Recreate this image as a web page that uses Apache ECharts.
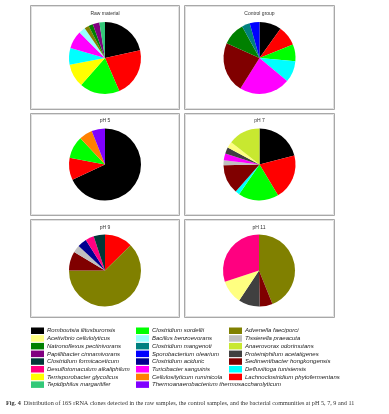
<!DOCTYPE html>
<html>
<head>
<meta charset="utf-8">
<script src="https://cdn.jsdelivr.net/npm/echarts@6/dist/echarts.min.js"></script>
<style>
html,body{margin:0;padding:0;background:#fff;}
#chart{width:389px;height:414px;}
</style>
</head>
<body>
<div id="chart"></div>
<script>
// ---- Data ----
const species = [
  'Romboutsia ilitusburonsis','Acetivibrio cellulolyticus','Natronoflexus pectinivorans','Papillibacter cinnamivorans',
  'Clostridium formicaceticum','Desulfotomaculum alkaliphilum','Terrisporobacter glycolicus','Tepidiphilus margaritifer',
  'Clostridium sordellii','Bacillus benzoevorans','Clostridium mangenoti','Sporobacterium olearium',
  'Clostridium aciduric','Turicibacter sanguinis','Cellulosilyticum ruminicola','Thermoanaerobacterium thermosaccharolyticum',
  'Advenella faeciporci','Tissierella praeacuta','Anaerovorax odorimutans','Proteiniphilum acetatigenes',
  'Sedimentibacter hongkongensis','Defluviitoga tunisiensis','Lachnoclostridium phytofermentans'
];
const speciesColors = [
  '#000000','#ffff80','#008000','#800080',
  '#003838','#ff0080','#ffff00','#33c878',
  '#00ff00','#99ffff','#008080','#0000ff',
  '#000090','#ff00ff','#ff8000','#8000ff',
  '#808000','#c0c0c0','#c8e830','#404040',
  '#800000','#00ffff','#ff0000'
];

const panelTitles = ['Raw material','Control group','pH 5','pH 7','pH 9','pH 11'];

const rawNames = ['Romboutsia ilitusburonsis','Lachnoclostridium phytofermentans','Clostridium sordellii','Terrisporobacter glycolicus','Defluviitoga tunisiensis','Turicibacter sanguinis','Bacillus benzoevorans','Advenella faeciporci','Natronoflexus pectinivorans','Papillibacter cinnamivorans','Tepidiphilus margaritifer'];
const rawValues = [21.5, 22, 18, 10.5, 7.5, 8, 3, 2, 2, 3, 2.5];

const controlNames = ['Romboutsia ilitusburonsis','Lachnoclostridium phytofermentans','Clostridium sordellii','Defluviitoga tunisiensis','Turicibacter sanguinis','Sedimentibacter hongkongensis','Natronoflexus pectinivorans','Clostridium mangenoti','Sporobacterium olearium'];
const controlValues = [9.9, 9, 7.5, 9.7, 22.8, 22.8, 10.3, 3.6, 4.4];

const ph5Names = ['Romboutsia ilitusburonsis','Lachnoclostridium phytofermentans','Clostridium sordellii','Cellulosilyticum ruminicola','Thermoanaerobacterium thermosaccharolyticum'];
const ph5Values = [68, 10, 10, 6, 6];

const ph7Names = ['Romboutsia ilitusburonsis','Lachnoclostridium phytofermentans','Clostridium sordellii','Defluviitoga tunisiensis','Sedimentibacter hongkongensis','Tissierella praeacuta','Turicibacter sanguinis','Proteiniphilum acetatigenes','Acetivibrio cellulolyticus','Anaerovorax odorimutans'];
const ph7Values = [21, 20.4, 18.2, 1.9, 13.2, 2.2, 3.1, 2.8, 2.8, 14.4];

const ph9Names = ['Lachnoclostridium phytofermentans','Advenella faeciporci','Sedimentibacter hongkongensis','Tissierella praeacuta','Clostridium aciduric','Desulfotomaculum alkaliphilum','Clostridium formicaceticum'];
const ph9Values = [12.6, 62.4, 8.6, 3.3, 4.2, 3.8, 5.1];

const ph11Names = ['Advenella faeciporci','Sedimentibacter hongkongensis','Proteiniphilum acetatigenes','Acetivibrio cellulolyticus','Desulfotomaculum alkaliphilum'];
const ph11Values = [43.9, 5.8, 9.6, 10.6, 30.1];

const captionBold = 'Fig. 4';
const captionText = 'Distribution of 16S rRNA clones detected in the raw samples, the control samples, and the bacterial communities at pH 5, 7, 9 and 11';

// ---- Build ----
const colorOf = {};
species.forEach((s, i) => colorOf[s] = speciesColors[i]);
function mk(names, values) {
  return names.map((n, i) => ({ name: n, value: values[i], itemStyle: { color: colorOf[n] } }));
}
const sets = [
  mk(rawNames, rawValues), mk(controlNames, controlValues),
  mk(ph5Names, ph5Values), mk(ph7Names, ph7Values),
  mk(ph9Names, ph9Values), mk(ph11Names, ph11Values)
];

const panels = [
  {x:30, y:5, w:149, h:104},{x:184, y:5, w:150, h:104},
  {x:30, y:113, w:149, h:102},{x:184, y:113, w:150, h:102},
  {x:30, y:219, w:149, h:98},{x:184, y:219, w:150, h:98}
];
const centers = [[105,58],[259.5,58],[105,164.5],[259.5,164.5],[105,270.5],[259,270.5]];
const titleY = [11.5, 11.5, 118.5, 118.5, 225.5, 225.5];

const series = sets.map((d, i) => ({
  type: 'pie',
  center: centers[i],
  radius: 36,
  startAngle: 90,
  clockwise: true,
  data: d,
  label: { show: false },
  labelLine: { show: false },
  itemStyle: { borderWidth: 0 },
  emphasis: { disabled: true },
  silent: true,
  avoidLabelOverlap: false
}));

const titles = panelTitles.map((t, i) => ({
  text: t,
  left: centers[i][0],
  top: titleY[i],
  padding: 0,
  textAlign: 'center',
  textStyle: { fontSize: 5, fontWeight: 'normal', color: '#333', fontFamily: 'Liberation Sans' }
}));
titles.push({
  text: '{b|' + captionBold + '}  ' + captionText,
  left: 6,
  top: 400,
  padding: 0,
  textStyle: {
    fontSize: 6.2, fontWeight: 'normal', color: '#333', fontFamily: 'Liberation Serif',
    rich: { b: { fontSize: 6.2, fontWeight: 'bold', color: '#333', fontFamily: 'Liberation Serif' } }
  }
});

const legendCols = [species.slice(0, 8), species.slice(8, 16), species.slice(16)];
const legendLeft = [31, 136, 229];
const legends = legendCols.map((names, i) => ({
  data: names,
  orient: 'vertical',
  left: legendLeft[i],
  top: 327,
  padding: 0,
  itemWidth: 13,
  itemHeight: 6.5,
  itemGap: 0.2,
  icon: 'rect',
  selectedMode: false,
  textStyle: { fontSize: 6, fontStyle: 'italic', color: '#222', fontFamily: 'Liberation Sans', lineHeight: 7.5, padding: [0, 0, 0, -2] }
}));

const graphics = [];
panels.forEach(p => {
  graphics.push({ type: 'rect', shape: { x: p.x + 0.5, y: p.y + 0.5, width: p.w, height: p.h }, style: { fill: null, stroke: '#a8a8a8', lineWidth: 1 }, silent: true, z: -1 });
  graphics.push({ type: 'rect', shape: { x: p.x + 1.5, y: p.y + 1.5, width: p.w - 2, height: p.h - 2 }, style: { fill: null, stroke: '#e0e0e0', lineWidth: 1 }, silent: true, z: -1 });
});

const chart = echarts.init(document.getElementById('chart'), null, { renderer: 'canvas' });
chart.setOption({
  animation: false,
  backgroundColor: '#ffffff',
  title: titles,
  legend: legends,
  graphic: graphics,
  series: series
});
</script>
</body>
</html>
